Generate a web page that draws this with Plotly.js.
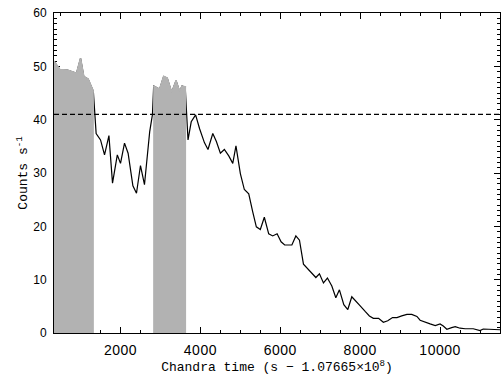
<!DOCTYPE html>
<html>
<head>
<meta charset="utf-8">
<script src="https://cdn.plot.ly/plotly-3.0.1.min.js"></script>
<style>
html,body{margin:0;padding:0;background:#fff;}
#chart{width:502px;height:375px;}
.xtick text{letter-spacing:0.5px;}
</style>
</head>
<body>
<div id="chart"></div>
<script>
// Light curve: time (s - 1.07665e8) and count rate (counts/s)
const times = [340, 480, 670, 900, 1000, 1080, 1190, 1320, 1390, 1500, 1600, 1710, 1800, 1920, 2000, 2100, 2190, 2310, 2400, 2500, 2600, 2730, 2800,
  2830, 2980, 3080, 3170, 3280, 3390, 3480, 3540, 3620,
  3690, 3770, 3880, 3980, 4100, 4190, 4310, 4400, 4500, 4600, 4710, 4810, 4890, 5000, 5100, 5210, 5310, 5400, 5500, 5600, 5710, 5810, 5920,
  6020, 6110, 6210, 6290, 6390, 6480, 6580, 6680, 6790, 6890, 6980, 7080, 7180, 7290, 7390, 7480, 7590, 7690, 7790, 7900, 8000, 8130, 8230,
  8330, 8460, 8580, 8690, 8810, 8920, 9040, 9170, 9290, 9420, 9500, 9630, 9750, 9880, 10000, 10080, 10170, 10290, 10380, 10500, 10630, 10830,
  10920, 11000, 11080, 11250, 11420, 11540];
const rates = [50.9, 49.4, 49.3, 48.7, 51.5, 48.1, 47.6, 45.3, 37.4, 36.2, 33.4, 37.0, 28.1, 33.4, 31.8, 35.6, 33.7, 27.6, 26.2, 31.4, 27.8, 37.7, 41.0,
  46.3, 45.7, 48.1, 47.8, 45.1, 47.3, 45.3, 46.3, 46.1,
  36.2, 39.6, 40.9, 38.3, 35.7, 34.4, 37.4, 35.9, 33.7, 34.4, 33.2, 31.8, 35.1, 29.9, 26.9, 26.1, 22.7, 19.9, 19.4, 21.7, 18.6, 18.2, 18.6,
  17.1, 16.5, 16.5, 16.5, 18.2, 17.4, 12.9, 12.1, 11.1, 10.4, 11.1, 9.4, 10.3, 8.8, 6.6, 8.1, 5.3, 4.4, 6.8, 6.0, 5.1, 4.0, 3.2,
  2.75, 2.75, 2.0, 2.3, 2.9, 2.9, 3.2, 3.5, 3.5, 3.1, 2.4, 2.0, 1.7, 1.4, 1.7, 1.3, 0.7, 1.0, 1.2, 0.9, 0.8, 0.8,
  0.6, 0.45, 0.75, 0.7, 0.7, 0.6];
// Shaded (excluded) intervals
const shadeStart = [335, 2817];
const shadeEnd = [1333, 3642];
// Mean / threshold level (dashed line)
const meanLevel = 41.0;
// Axis ranges
const xRange = [335, 11500];
const yRange = [0, 60];

const traces = [{
  x: times, y: rates, type: 'scatter', mode: 'lines',
  line: {color: '#000', width: 1.2}, hoverinfo: 'skip', showlegend: false
}];
for (let k = 0; k < shadeStart.length; k++) {
  const xs = [], ys = [];
  for (let i = 0; i < times.length; i++) {
    if (times[i] >= shadeStart[k] && times[i] <= shadeEnd[k]) { xs.push(times[i]); ys.push(rates[i]); }
  }
  xs.unshift(shadeStart[k]); ys.unshift(ys[0]);
  xs.push(shadeEnd[k]); ys.push(ys[ys.length - 1]);
  traces.push({
    x: xs, y: ys, type: 'scatter', mode: 'lines', fill: 'tozeroy',
    fillcolor: 'rgb(178,178,178)', line: {color: 'rgb(178,178,178)', width: 1.6},
    hoverinfo: 'skip', showlegend: false
  });
}

const axisCommon = {
  showline: true, linecolor: '#000', linewidth: 1, mirror: 'allticks',
  ticks: 'inside', tickcolor: '#000', tickwidth: 1, ticklen: 6,
  showgrid: false, zeroline: false, layer: 'below traces'
};

const layout = {
  width: 502, height: 375,
  margin: {l: 54, r: 2, t: 13, b: 42},
  paper_bgcolor: '#fff', plot_bgcolor: '#fff',
  xaxis: Object.assign({}, axisCommon, {
    range: xRange, tick0: 0, dtick: 2000, tickformat: 'd',
    minor: {dtick: 500, ticks: 'inside', ticklen: 3, tickcolor: '#000', showgrid: false},
    tickfont: {family: 'Liberation Sans, Arial, sans-serif', size: 14, color: '#000'},
    ticklabelstandoff: 4,
    title: {text: 'Chandra time (s − 1.07665×10<sup>8</sup>)', standoff: 4,
      font: {family: 'Liberation Mono, Courier New, monospace', size: 13, color: '#000'}}
  }),
  yaxis: Object.assign({}, axisCommon, {
    range: yRange, tick0: 0, dtick: 10,
    minor: {dtick: 1, ticks: 'inside', ticklen: 3, tickcolor: '#000', showgrid: false},
    tickfont: {family: 'Liberation Sans, Arial, sans-serif', size: 12, color: '#000'},
    ticklabelstandoff: 4,
    title: {text: 'Counts s<sup>-1</sup>', standoff: 2,
      font: {family: 'Liberation Mono, Courier New, monospace', size: 13, color: '#000'}}
  }),
  shapes: [{
    type: 'line', xref: 'paper', yref: 'y', x0: 0, x1: 1, y0: meanLevel, y1: meanLevel,
    line: {color: '#000', width: 1.2, dash: '5px,3px'}, layer: 'above'
  }]
};

Plotly.newPlot('chart', traces, layout, {displayModeBar: false, staticPlot: true});
</script>
</body>
</html>
